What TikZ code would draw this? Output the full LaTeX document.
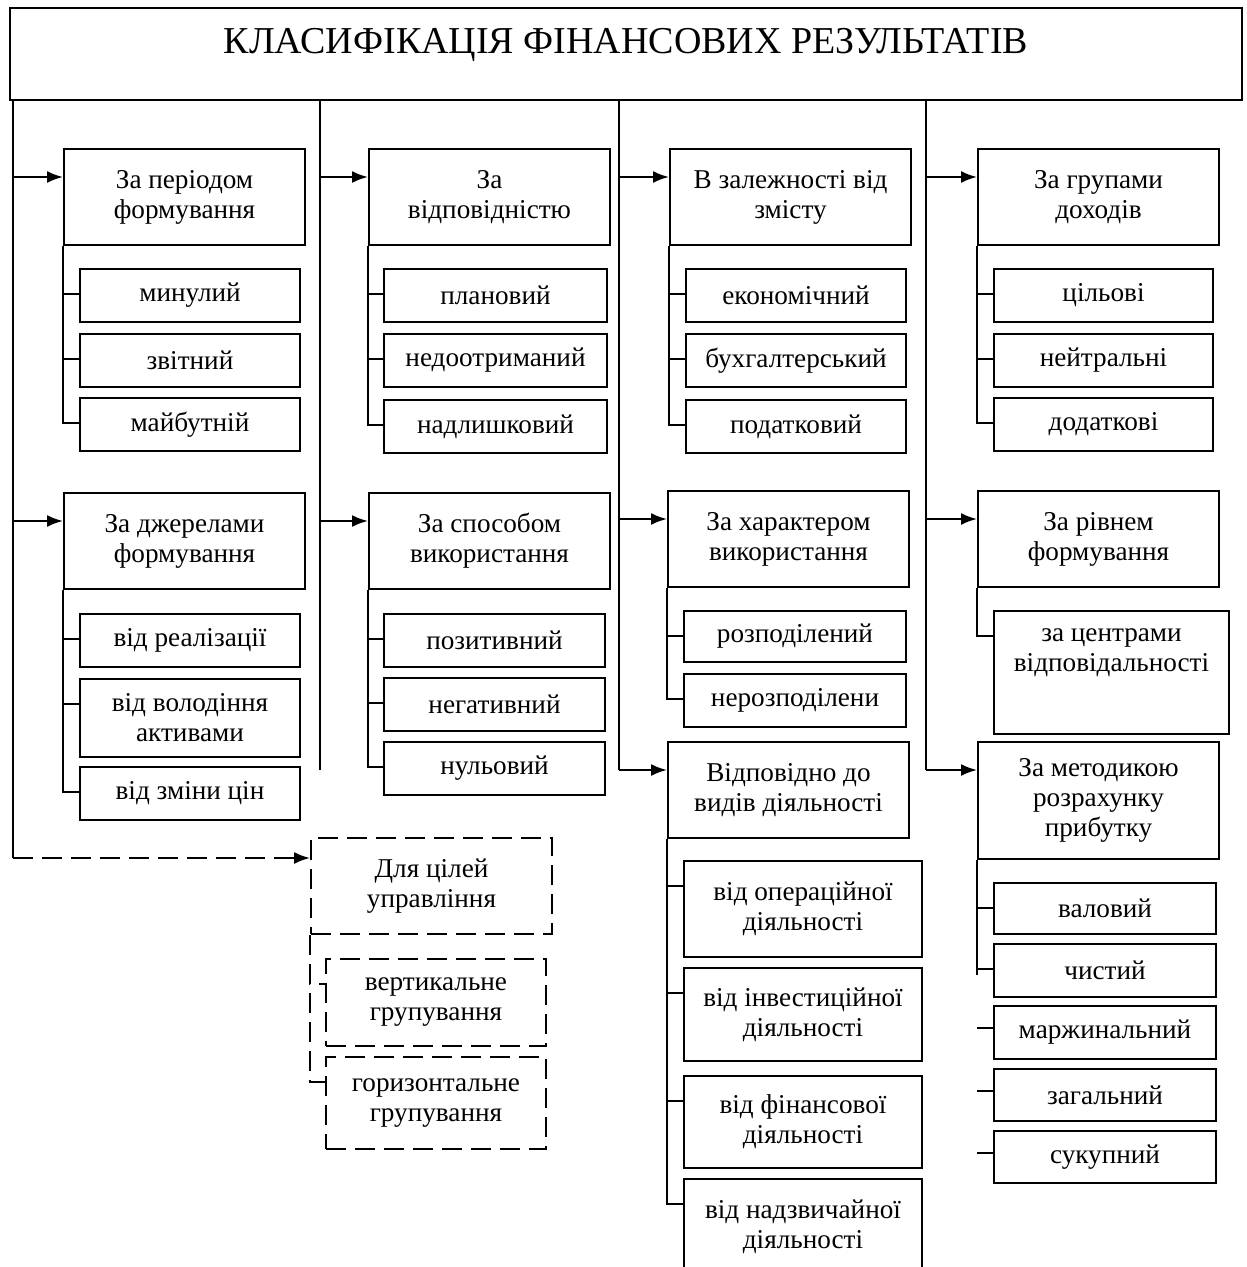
\documentclass[tikz,border=0pt]{standalone}
\usepackage{fontspec}
\setmainfont{Liberation Serif}
\usetikzlibrary{calc, arrows.meta}
\tikzset{
	box/.style={
		draw,
		line width=1pt,
		align=center,
		inner sep=2pt,
		anchor=north west,
		font=\fontsize{13.6}{15}\selectfont
	},
	hdr/.style={box, minimum width=120.5pt, minimum height=48pt},
	itm/.style={box, minimum width=#1, minimum height=26.5pt},
	itm/.default=110pt,
	tall/.style={box, minimum width=119pt, minimum height=47pt},
	dbox/.style={dash pattern=on 10pt off 4.5pt},
	link/.style={line width=1pt},
	arr/.style={link, -{Latex[length=8pt,width=6pt]}}
}

\begin{document}
\begin{tikzpicture}[x=0.5pt, y=-0.5pt]
	\useasboundingbox (0,0) rectangle (1246,1267);

	% title
	\node[draw, line width=1pt, minimum width=616pt, minimum height=46pt,
		text height=12pt, text depth=12pt, font=\fontsize{19}{22}\selectfont]
		(title) at (626,54) {КЛАСИФІКАЦІЯ ФІНАНСОВИХ РЕЗУЛЬТАТІВ};

	% trunk ends
	\coordinate (t1) at (13,858);
	\coordinate (t2) at (320,770);
	\coordinate (t3) at (619,770);
	\coordinate (t4) at (926,770);

	% column 1
	\node[hdr] (h11) at (63,148) {За періодом\\формування};
	\node[itm] (h11-1) at (79,268) {минулий};
	\node[itm] (h11-2) at (79,333) {звітний};
	\node[itm] (h11-3) at (79,397) {майбутній};

	\node[hdr] (h12) at (63,492) {За джерелами\\формування};
	\node[itm] (h12-1) at (79,613) {від реалізації};
	\node[itm, minimum height=39pt] (h12-2) at (79,678) {від володіння\\активами};
	\node[itm] (h12-3) at (79,766) {від зміни цін};

	\node[hdr, dbox] (h13) at (310,837) {Для цілей\\управління};
	\node[itm, dbox, minimum height=43.5pt] (h13-1) at (325,958) {вертикальне\\групування};
	\node[itm, dbox, minimum height=46pt] (h13-2) at (325,1056) {горизонтальне\\групування};

	% column 2
	\node[hdr] (h21) at (368,148) {За\\відповідністю};
	\node[itm=111.5pt] (h21-1) at (383,268) {плановий};
	\node[itm=111.5pt] (h21-2) at (383,333) {недоотриманий};
	\node[itm=111.5pt] (h21-3) at (383,399) {надлишковий};

	\node[hdr] (h22) at (368,492) {За способом\\використання};
	\node[itm=110.5pt] (h22-1) at (383,613) {позитивний};
	\node[itm=110.5pt] (h22-2) at (383,677) {негативний};
	\node[itm=110.5pt] (h22-3) at (383,741) {нульовий};

	% column 3
	\node[hdr] (h31) at (669,148) {В залежності від\\змісту};
	\node[itm] (h31-1) at (685,268) {економічний};
	\node[itm] (h31-2) at (685,333) {бухгалтерський};
	\node[itm] (h31-3) at (685,399) {податковий};

	\node[hdr] (h32) at (667,490) {За характером\\використання};
	\node[itm=111pt, minimum height=25.5pt] (h32-1) at (683,610) {розподілений};
	\node[itm=111pt] (h32-2) at (683,673) {нерозподілени};

	\node[hdr] (h33) at (667,741) {Відповідно до\\видів діяльності};
	\node[tall, minimum height=48pt] (h33-1) at (683,860) {від операційної\\діяльності};
	\node[tall, minimum height=46.5pt] (h33-2) at (683,967) {від інвестиційної\\діяльності};
	\node[tall, minimum height=46pt] (h33-3) at (683,1075) {від фінансової\\діяльності};
	\node[tall, minimum height=48pt] (h33-4) at (683,1178) {від надзвичайної\\діяльності};

	% column 4
	\node[hdr] (h41) at (977,148) {За групами\\доходів};
	\node[itm=109.5pt] (h41-1) at (993,268) {цільові};
	\node[itm=109.5pt] (h41-2) at (993,333) {нейтральні};
	\node[itm=109.5pt] (h41-3) at (993,397) {додаткові};

	\node[hdr] (h42) at (977,490) {За рівнем\\формування};
	\node[itm=117.5pt, minimum height=61.5pt, text height=24pt, text depth=25.5pt]
		(h42-1) at (993,610) {за центрами\\відповідальності};

	\node[hdr, minimum height=58.5pt] (h43) at (977,741) {За методикою\\розрахунку\\прибутку};
	\node[itm=111pt, minimum height=25.5pt] (h43-1) at (993,882) {валовий};
	\node[itm=111pt] (h43-2) at (993,943) {чистий};
	\node[itm=111pt] (h43-3) at (993,1005) {маржинальний};
	\node[itm=111pt, minimum height=26pt] (h43-4) at (993,1068) {загальний};
	\node[itm=111pt, minimum height=26pt] (h43-5) at (993,1130) {сукупний};

	% trunks
	\foreach \t in {t1,t2,t3,t4}
		\draw[link] (title.south -| \t) -- (\t);

	% trunk -> group arrows
	\foreach \t/\g in {t1/h11, t1/h12, t2/h21, t2/h22, t3/h31, t3/h32, t3/h33,
			t4/h41, t4/h42, t4/h43} {
		\coordinate (\g-in) at ($(\g.north west)+(0,29)$);
		\draw[arr] (\t |- \g-in) -- (\g-in);
	}
	\coordinate (h13-in) at ($(h13.north west)+(0,21)$);
	\draw[arr, dbox] (t1) -- (h13-in);

	% group brackets
	\foreach \g/\n in {h11/3, h12/3, h21/3, h22/3, h31/3, h32/2, h33/4, h41/3, h42/1, h43/2}
		\foreach \i in {1,...,\n}
			\draw[link] (\g.south west) |- ($(\g-\i.north west)+(0,26)$);
	\foreach \i in {1,2}
		\draw[link, dbox] (h13.south west) |- ($(h13-\i.north west)+(0,26)$);
	\draw[link] (h43.south west) -- ++(0,115);
	\foreach \i in {3,4,5}
		\draw[link] ($(h43-\i.north west)+(-16,23)$) -- ($(h43-\i.north west)+(0,23)$);
\end{tikzpicture}
\end{document}
